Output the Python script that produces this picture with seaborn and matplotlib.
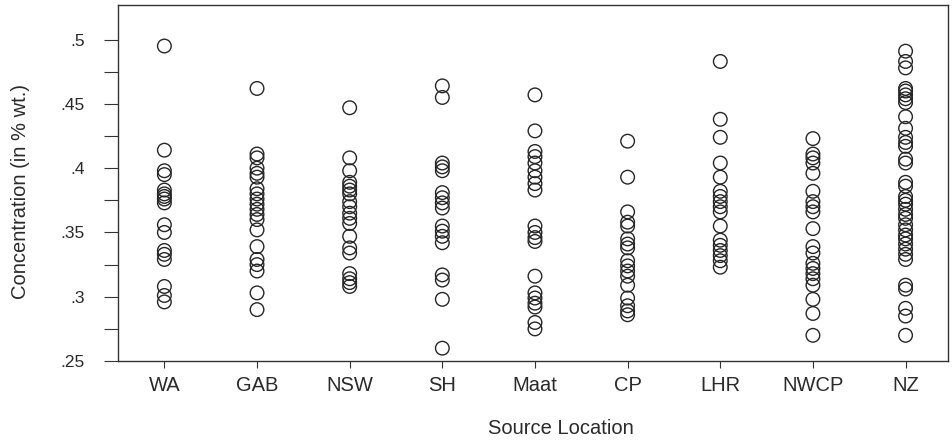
import matplotlib
matplotlib.use("Agg")
import matplotlib.pyplot as plt
import seaborn as sns
import pandas as pd

categories = ["WA", "GAB", "NSW", "SH", "Maat", "CP", "LHR", "NWCP", "NZ"]

wa = [.495, .414, .398, .395, .383, .380, .378, .376, .373, .356, .350, .336, .333, .329, .308, .301, .296]
gab = [.462, .411, .408, .400, .396, .393, .384, .380, .376, .372, .368, .364, .360, .352, .339, .329, .325, .320, .303, .290]
nsw = [.447, .408, .398, .389, .386, .383, .380, .374, .370, .365, .361, .357, .347, .338, .334, .318, .314, .311, .308]
sh = [.464, .455, .404, .401, .398, .381, .377, .373, .369, .355, .351, .347, .342, .317, .313, .298, .260]
maat = [.457, .429, .413, .409, .404, .398, .393, .388, .383, .355, .350, .346, .343, .316, .303, .299, .295, .292, .280, .275]
cp = [.421, .393, .366, .358, .355, .345, .341, .338, .328, .324, .320, .316, .309, .299, .293, .289, .286]
lhr = [.483, .438, .424, .404, .393, .382, .378, .374, .370, .366, .355, .344, .340, .336, .332, .328, .323]
nwcp = [.423, .411, .408, .404, .396, .382, .374, .370, .366, .353, .339, .334, .326, .322, .318, .314, .309, .298, .287, .270]
nz = [.491, .483, .478, .462, .460, .457, .454, .451, .440, .431, .424, .420, .417, .407, .404, .389, .386,
      .378, .375, .372, .368, .364, .361, .356, .352, .348, .345, .341, .337, .333, .329, .309, .306, .291, .285, .270]

ytick_values = [.25, .3, .35, .4, .45, .5]
ytick_labels = [".25", ".3", ".35", ".4", ".45", ".5"]
yminor_values = [.275, .325, .375, .425, .475]

series = [wa, gab, nsw, sh, maat, cp, lhr, nwcp, nz]
rows = []
for cat, vals in zip(categories, series):
    for v in vals:
        rows.append({"Source Location": cat, "Concentration": v})
df = pd.DataFrame(rows)

sns.set_theme(style="white")
plt.rcParams["font.family"] = ["Liberation Sans", "DejaVu Sans"]

fig = plt.figure(figsize=(9.52, 4.43), dpi=100)
ax = fig.add_axes([0.124, 0.185, 0.872, 0.804])

sns.stripplot(data=df, x="Source Location", y="Concentration", order=categories,
              jitter=False, size=9.8, linewidth=1.0, color="black", ax=ax)
for coll in ax.collections:
    coll.set_facecolor("none")
    coll.set_edgecolor("#262626")
    coll.set_linewidth(1.0)

ax.set_xlim(-0.5, 8.46)
ax.set_ylim(0.25, 0.527)
ax.set_yticks(ytick_values)
ax.set_yticklabels(ytick_labels, fontsize=12.5, color="#2a2a2a")
ax.set_yticks(yminor_values, minor=True)
ax.tick_params(axis="y", which="both", direction="out", length=10, width=0.8,
               color="#333333", left=True, pad=14)
ax.tick_params(axis="x", which="major", direction="out", length=5, width=0.8,
               color="#333333", bottom=True, pad=6)
ax.set_xticks(range(len(categories)))
ax.set_xticklabels(categories, fontsize=14.5, color="#2a2a2a")

for s in ax.spines.values():
    s.set_visible(True)
    s.set_color("#333333")
    s.set_linewidth(1.0)

ax.set_xlabel("Source Location", fontsize=14.5, color="#2a2a2a")
ax.set_ylabel("Concentration (in % wt.)", fontsize=14.5, color="#2a2a2a")
ax.xaxis.set_label_coords(0.533, -0.188)
ax.xaxis.label.set_verticalalignment("center")
ax.yaxis.set_label_coords(-0.118, 0.475)
ax.yaxis.label.set_verticalalignment("center")

fig.savefig("out.png", dpi=100)
